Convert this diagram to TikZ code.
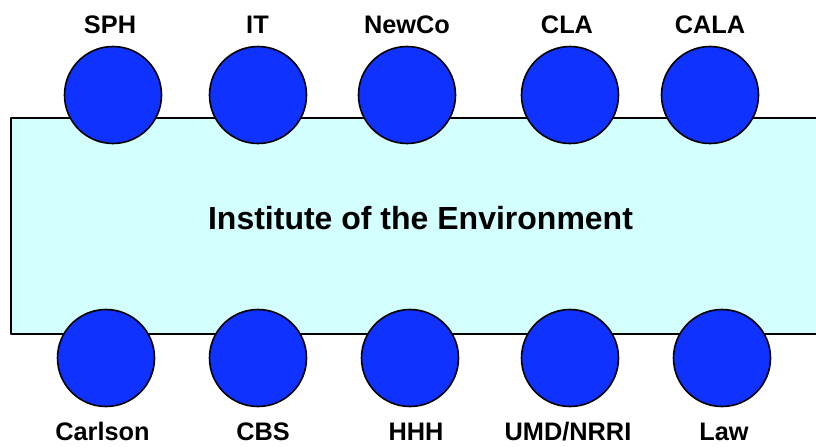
\documentclass[tikz,border=0pt]{standalone}
\usepackage{fontspec}
\setmainfont{Liberation Sans}
\definecolor{unitblue}{RGB}{16,50,255}
\definecolor{iecyan}{RGB}{212,255,255}
\tikzset{
	unit/.style={circle, draw, line width=1.2pt, fill=unitblue, minimum size=72.75pt, inner sep=0pt},
	unitname/.style={anchor=base, font=\fontsize{19}{22}\selectfont\bfseries}
}
\begin{document}
\begin{tikzpicture}[x=0.75pt, y=-0.75pt, line join=round]
	\useasboundingbox (0,0) rectangle (816,446);
	\draw[line width=1.1pt, fill=iecyan] (11,118) rectangle (840,334);
	\node[anchor=base, font=\fontsize{24}{28}\selectfont\bfseries] (ie) at (420.5,229) {Institute of the Environment};
	% top row
	\foreach \x/\n in {113/sph, 258/it, 407/newco, 570/cla, 710/cala}
		\node[unit] (\n) at (\x,95) {};
	\foreach \x/\n/\t in {110/sphl/SPH, 257.5/itl/IT, 407/newcol/NewCo, 567/clal/CLA, 710/calal/CALA}
		\node[unitname] (\n) at (\x,33) {\t};
	% bottom row
	\foreach \x/\n in {106/carlson, 258/cbs, 410/hhh, 570/umd, 722/law}
		\node[unit] (\n) at (\x,358) {};
	\foreach \x/\n/\t in {102.5/carlsonl/Carlson, 263/cbsl/CBS, 416/hhhl/HHH, 568/umdl/{UMD/NRRI}, 724/lawl/Law}
		\node[unitname] (\n) at (\x,440) {\t};
\end{tikzpicture}
\end{document}
